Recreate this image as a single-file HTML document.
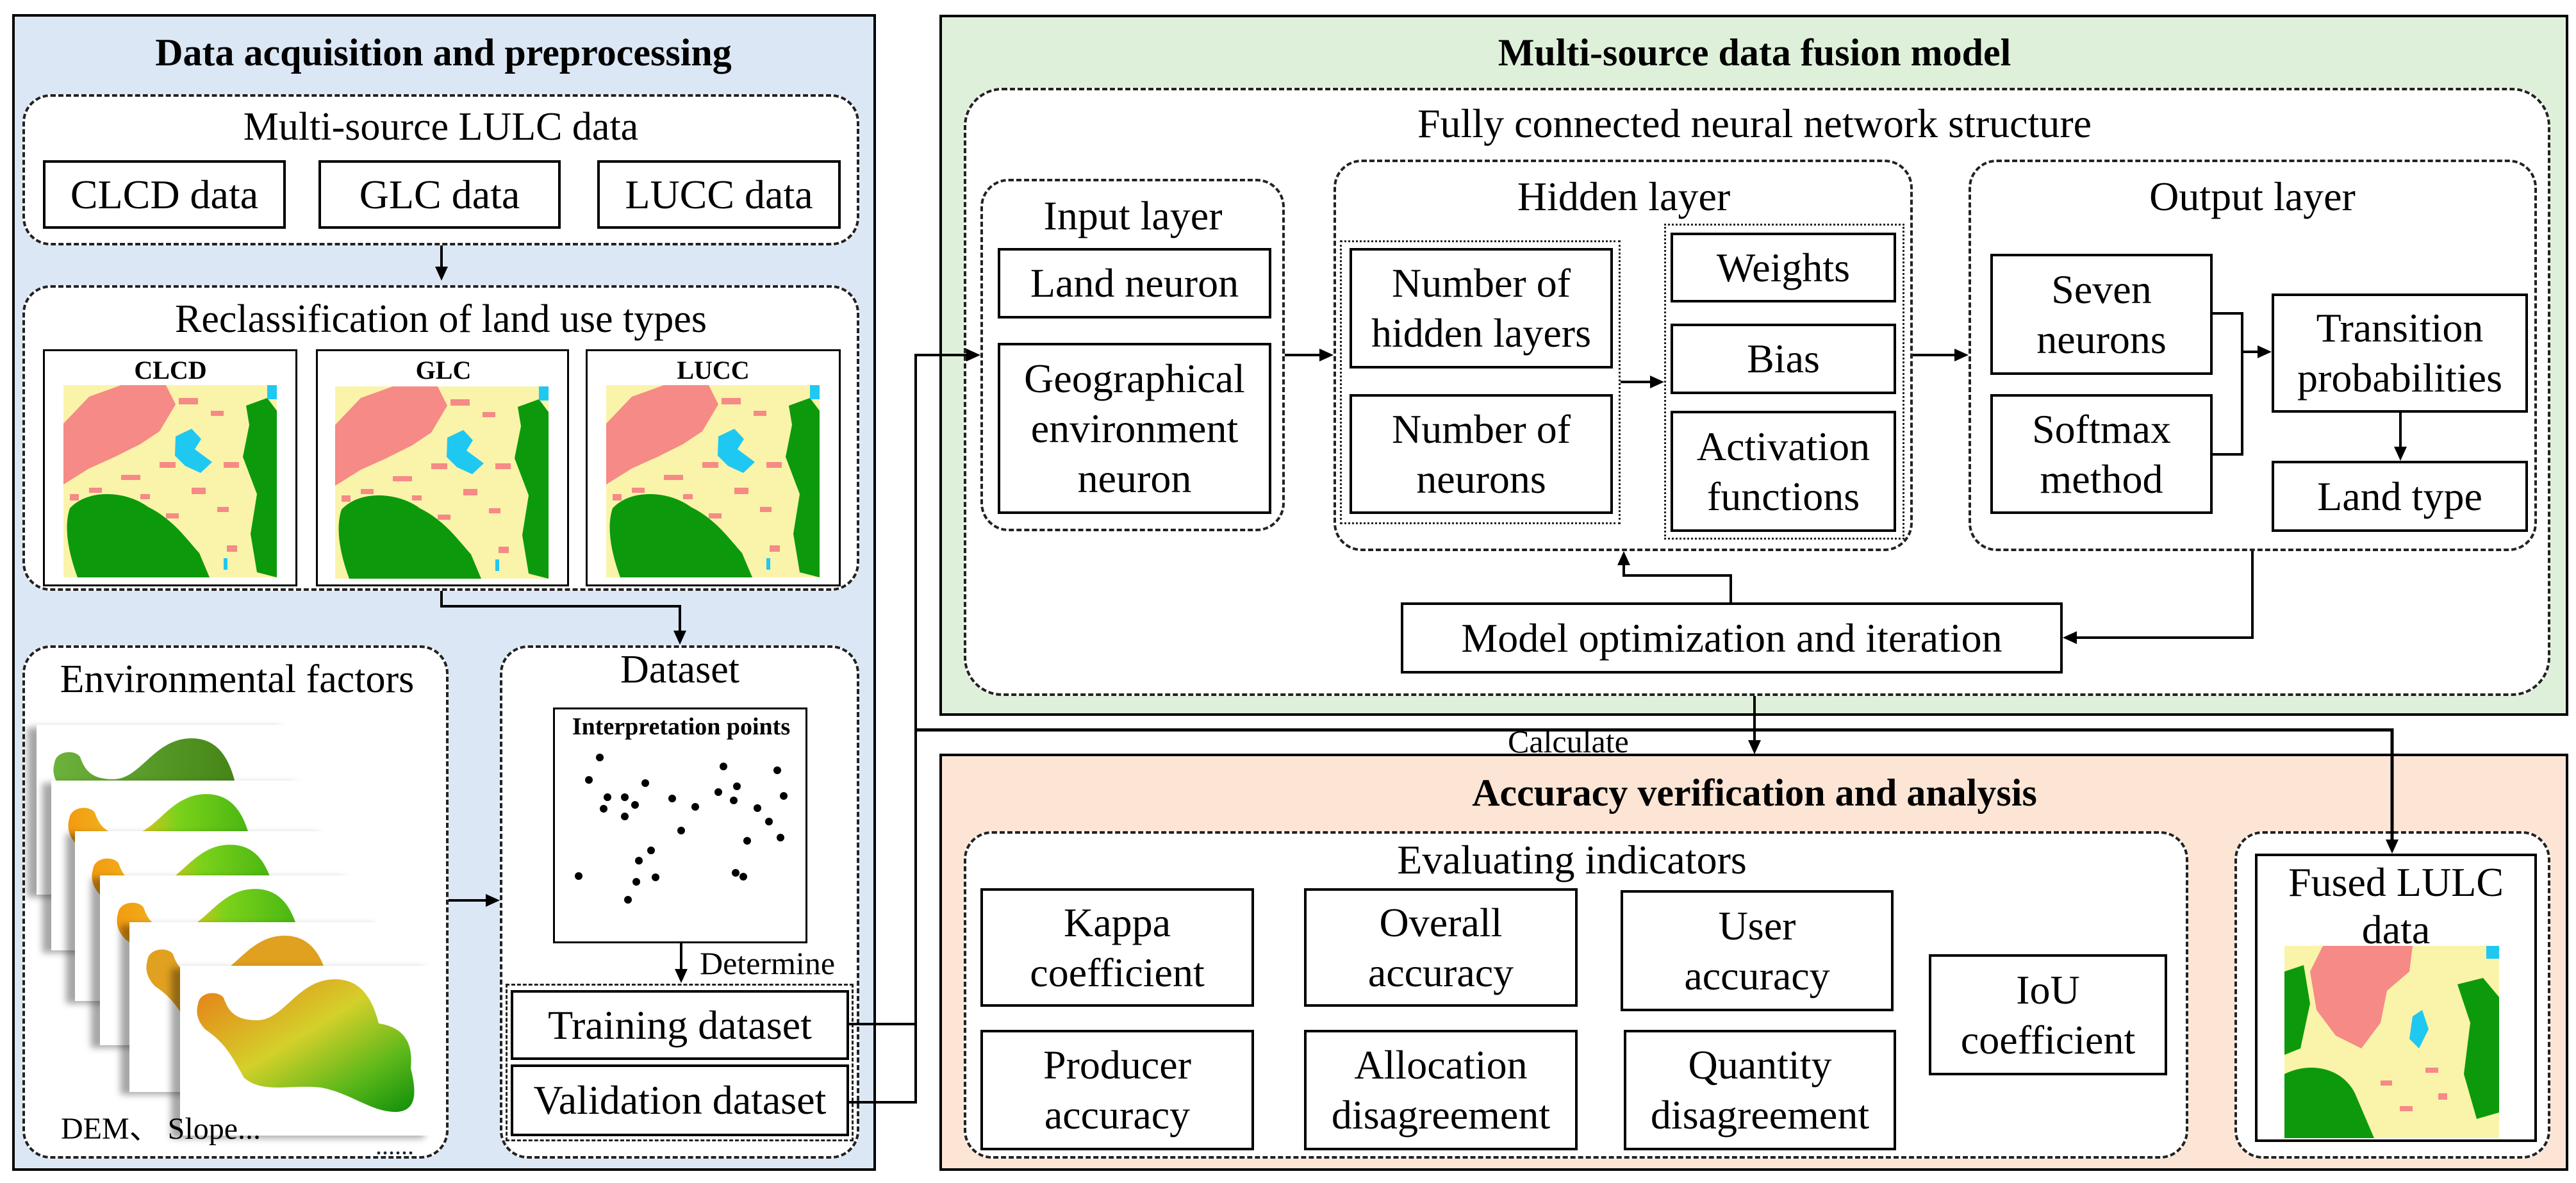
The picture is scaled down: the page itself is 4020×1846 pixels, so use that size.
<!DOCTYPE html>
<html><head><meta charset="utf-8">
<style>
html,body{margin:0;padding:0;background:#fff;}
#root{position:relative;width:4020px;height:1846px;overflow:hidden;background:#fff;font-family:"Liberation Serif",serif;color:#000;}
.a{position:absolute;box-sizing:border-box;}
.panel{border:4px solid #000;}
.d{border:4px dashed #222;border-radius:44px;}
.dt{border:3px dotted #222;}
.b{border:4px solid #000;background:#fff;display:flex;align-items:center;justify-content:center;text-align:center;font-size:64px;line-height:78px;font-family:"Liberation Serif",serif;}
.t{position:absolute;white-space:nowrap;transform:translate(-50%,-50%);font-size:62px;line-height:1;font-family:"Liberation Serif",serif;}
.h{font-weight:bold;font-size:60px;}
.card{position:absolute;background:#fff;width:395px;height:265px;box-shadow:-14px 4px 10px rgba(0,0,0,0.35);}
</style></head><body><div id="root">

<svg width="0" height="0" style="position:absolute">
<defs>
<symbol id="map" viewBox="0 0 333 300" preserveAspectRatio="none">
<rect width="333" height="300" fill="#faf3aa"/>
<path d="M0,60 L40,18 L90,0 L160,0 L175,30 L150,72 L120,92 L80,112 L40,130 L0,155 Z" fill="#f58a86"/>
<g fill="#f58a86">
<rect x="180" y="20" width="30" height="10"/><rect x="230" y="40" width="20" height="8"/><rect x="150" y="120" width="25" height="9"/><rect x="90" y="140" width="30" height="8"/><rect x="200" y="160" width="22" height="10"/><rect x="240" y="190" width="18" height="8"/><rect x="40" y="160" width="20" height="8"/><rect x="250" y="120" width="24" height="9"/><rect x="160" y="200" width="20" height="8"/><rect x="255" y="250" width="16" height="10"/><rect x="10" y="170" width="14" height="10"/><rect x="120" y="170" width="15" height="8"/>
</g>
<path d="M175,80 L200,68 L215,84 L205,100 L232,120 L214,137 L190,126 L174,110 Z" fill="#1fc8f0"/>
<path d="M10,192 C40,160 100,166 132,190 C172,210 192,240 212,262 L228,300 L22,300 C8,262 0,222 10,192 Z" fill="#0c9a0c"/>
<path d="M285,32 L318,20 L333,40 L333,300 L302,292 L292,232 L302,170 L280,112 L290,62 Z" fill="#0c9a0c"/>
<rect x="318" y="0" width="15" height="22" fill="#1fc8f0"/>
<rect x="250" y="270" width="6" height="18" fill="#1fc8f0"/>
</symbol>
<symbol id="fmap" viewBox="0 0 335 300" preserveAspectRatio="none">
<rect width="335" height="300" fill="#faf3aa"/>
<path d="M60,0 L200,0 L195,40 L160,70 L150,120 L120,160 L80,140 L50,100 L40,40 Z" fill="#f58a86"/>
<path d="M0,40 L30,30 L40,90 L25,160 L0,170 Z" fill="#0c9a0c"/>
<path d="M270,60 L310,50 L335,80 L335,260 L300,270 L280,200 L290,120 Z" fill="#0c9a0c"/>
<path d="M0,200 C40,180 90,190 110,230 L140,300 L0,300 Z" fill="#0c9a0c"/>
<path d="M200,110 L215,100 L225,130 L210,160 L195,145 Z" fill="#1fc8f0"/>
<rect x="315" y="0" width="20" height="20" fill="#1fc8f0"/>
<g fill="#f58a86"><rect x="220" y="190" width="20" height="8"/><rect x="150" y="210" width="18" height="8"/><rect x="240" y="230" width="14" height="10"/><rect x="180" y="250" width="20" height="8"/></g>
</symbol>
<path id="blob" d="M28,60 C30,40 60,38 68,50 C75,70 85,85 120,85 C160,85 180,30 230,22 C280,15 300,50 310,90 C340,95 365,110 360,160 C370,200 368,225 340,228 C300,230 270,200 220,190 C170,185 130,200 100,175 C80,140 70,120 40,100 C25,85 25,70 28,60 Z"/>
<linearGradient id="g1" x1="0" x2="1"><stop offset="0" stop-color="#6cb23c"/><stop offset="1" stop-color="#3e7d10"/></linearGradient>
<linearGradient id="g2" x1="0" x2="1"><stop offset="0" stop-color="#f29a12"/><stop offset="0.3" stop-color="#f0c020"/><stop offset="0.5" stop-color="#7cd21a"/><stop offset="1" stop-color="#2fa80e"/></linearGradient>
<linearGradient id="g3" x1="0" y1="0" x2="1" y2="1"><stop offset="0" stop-color="#e87a18"/><stop offset="0.45" stop-color="#d4d02a"/><stop offset="0.75" stop-color="#5cb81a"/><stop offset="1" stop-color="#0e8e0a"/></linearGradient>
</defs>
</svg>

<!-- Panels -->
<div class="a panel" style="left:19px;top:22px;width:1348px;height:1805px;background:#dce7f5"></div>
<div class="a panel" style="left:1466px;top:23px;width:2542px;height:1094px;background:#dff0da"></div>
<div class="a panel" style="left:1466px;top:1176px;width:2542px;height:651px;background:#fde5d5"></div>

<div class="t h" style="left:692px;top:82px">Data acquisition and preprocessing</div>
<div class="t h" style="left:2738px;top:82px">Multi-source data fusion model</div>
<div class="t h" style="left:2738px;top:1237px">Accuracy verification and analysis</div>

<div class="a d" style="left:35px;top:147px;width:1306px;height:236px;background:#fff"></div>
<div class="t" style="left:688px;top:198px">Multi-source LULC data</div>
<div class="a b" style="left:67px;top:250px;width:379px;height:107px">CLCD data</div>
<div class="a b" style="left:497px;top:250px;width:378px;height:107px">GLC data</div>
<div class="a b" style="left:932px;top:250px;width:380px;height:107px">LUCC data</div>

<div class="a d" style="left:35px;top:445px;width:1306px;height:477px;background:#fff"></div>
<div class="t" style="left:688px;top:498px">Reclassification of land use types</div>
<div class="a" style="left:67px;top:545px;width:397px;height:370px;border:3px solid #000;background:#fff"></div>
<div class="a" style="left:493px;top:545px;width:395px;height:370px;border:3px solid #000;background:#fff"></div>
<div class="a" style="left:914px;top:545px;width:398px;height:370px;border:3px solid #000;background:#fff"></div>
<div class="t" style="left:266px;top:578px;font-weight:bold;font-size:40px">CLCD</div>
<div class="t" style="left:692px;top:578px;font-weight:bold;font-size:40px">GLC</div>
<div class="t" style="left:1113px;top:578px;font-weight:bold;font-size:40px">LUCC</div>
<svg class="a" style="left:99px;top:601px" width="333" height="300"><use href="#map"/></svg>
<svg class="a" style="left:523px;top:603px" width="333" height="300"><use href="#map"/></svg>
<svg class="a" style="left:946px;top:601px" width="333" height="300"><use href="#map"/></svg>

<div class="a d" style="left:35px;top:1007px;width:665px;height:801px;background:#fff"></div>
<div class="t" style="left:370px;top:1060px">Environmental factors</div>
<div class="card" style="left:57px;top:1131px"><svg width="395" height="265"><use href="#blob" fill="url(#g1)"/></svg></div>
<div class="card" style="left:80px;top:1218px"><svg width="395" height="265"><use href="#blob" fill="url(#g2)"/></svg></div>
<div class="card" style="left:117px;top:1297px"><svg width="395" height="265"><use href="#blob" fill="url(#g2)"/></svg></div>
<div class="card" style="left:156px;top:1366px"><svg width="395" height="265"><use href="#blob" fill="url(#g2)"/></svg></div>
<div class="card" style="left:202px;top:1439px"><svg width="395" height="265"><use href="#blob" fill="#e0a020"/></svg></div>
<div class="card" style="left:281px;top:1507px"><svg width="395" height="265"><use href="#blob" fill="url(#g3)"/></svg></div>
<div class="a" style="left:95px;top:1738px;font-size:48px;line-height:1;white-space:nowrap">DEM、 Slope...</div>
<div class="a" style="left:586px;top:1768px;font-size:40px;line-height:1;color:#123">......</div>

<div class="a d" style="left:780px;top:1007px;width:561px;height:801px;background:#fff"></div>
<div class="t" style="left:1061px;top:1045px">Dataset</div>
<div class="a" style="left:863px;top:1104px;width:397px;height:368px;border:3px solid #000;background:#fff"></div>
<div class="t" style="left:1063px;top:1134px;font-weight:bold;font-size:38px">Interpretation points</div>
<svg class="a" style="left:863px;top:1104px" width="397" height="368">
<g fill="#000">
<circle cx="73" cy="78" r="6"/><circle cx="56" cy="113" r="6"/><circle cx="85" cy="140" r="6"/><circle cx="112" cy="140" r="6"/><circle cx="144" cy="118" r="6"/><circle cx="79" cy="158" r="6"/><circle cx="128" cy="152" r="6"/><circle cx="112" cy="170" r="6"/><circle cx="186" cy="142" r="6"/><circle cx="222" cy="155" r="6"/><circle cx="200" cy="192" r="6"/><circle cx="266" cy="92" r="6"/><circle cx="258" cy="132" r="6"/><circle cx="287" cy="123" r="6"/><circle cx="282" cy="145" r="6"/><circle cx="319" cy="157" r="6"/><circle cx="350" cy="98" r="6"/><circle cx="360" cy="138" r="6"/><circle cx="337" cy="178" r="6"/><circle cx="303" cy="208" r="6"/><circle cx="355" cy="203" r="6"/><circle cx="153" cy="223" r="6"/><circle cx="134" cy="239" r="6"/><circle cx="40" cy="263" r="6"/><circle cx="130" cy="272" r="6"/><circle cx="160" cy="265" r="6"/><circle cx="285" cy="258" r="6"/><circle cx="297" cy="264" r="6"/><circle cx="117" cy="300" r="6"/>
</g></svg>
<div class="a" style="left:1092px;top:1478px;font-size:50px;line-height:1">Determine</div>
<div class="a" style="left:789px;top:1535px;width:543px;height:246px;border:3px dashed #222"></div>
<div class="a b" style="left:797px;top:1545px;width:528px;height:109px">Training dataset</div>
<div class="a b" style="left:797px;top:1661px;width:528px;height:112px">Validation dataset</div>

<div class="a d" style="left:1504px;top:137px;width:2476px;height:949px;background:#fff;border-radius:60px"></div>
<div class="t" style="left:2738px;top:193px;font-size:64px">Fully connected neural network structure</div>

<div class="a d" style="left:1530px;top:279px;width:475px;height:550px"></div>
<div class="t" style="left:1768px;top:337px;font-size:64px">Input layer</div>
<div class="a b" style="left:1557px;top:387px;width:427px;height:110px">Land neuron</div>
<div class="a b" style="left:1557px;top:535px;width:427px;height:267px">Geographical<br>environment<br>neuron</div>

<div class="a d" style="left:2081px;top:249px;width:904px;height:611px"></div>
<div class="t" style="left:2534px;top:307px;font-size:64px">Hidden layer</div>
<div class="a dt" style="left:2091px;top:375px;width:438px;height:443px"></div>
<div class="a b" style="left:2106px;top:387px;width:411px;height:188px">Number of<br>hidden layers</div>
<div class="a b" style="left:2106px;top:615px;width:411px;height:187px">Number of<br>neurons</div>
<div class="a dt" style="left:2597px;top:349px;width:375px;height:493px"></div>
<div class="a b" style="left:2607px;top:363px;width:352px;height:109px">Weights</div>
<div class="a b" style="left:2607px;top:505px;width:352px;height:110px">Bias</div>
<div class="a b" style="left:2607px;top:641px;width:352px;height:189px">Activation<br>functions</div>

<div class="a d" style="left:3072px;top:249px;width:887px;height:611px"></div>
<div class="t" style="left:3515px;top:307px;font-size:64px">Output layer</div>
<div class="a b" style="left:3106px;top:396px;width:347px;height:189px">Seven<br>neurons</div>
<div class="a b" style="left:3106px;top:615px;width:347px;height:187px">Softmax<br>method</div>
<div class="a b" style="left:3545px;top:458px;width:400px;height:186px">Transition<br>probabilities</div>
<div class="a b" style="left:3545px;top:719px;width:400px;height:111px">Land type</div>

<div class="a b" style="left:2186px;top:940px;width:1033px;height:111px">Model optimization and iteration</div>

<div class="a d" style="left:1504px;top:1297px;width:1911px;height:511px;background:#fff"></div>
<div class="t" style="left:2453px;top:1342px;font-size:64px">Evaluating indicators</div>
<div class="a b" style="left:1530px;top:1386px;width:427px;height:185px">Kappa<br>coefficient</div>
<div class="a b" style="left:2035px;top:1386px;width:427px;height:185px">Overall<br>accuracy</div>
<div class="a b" style="left:2529px;top:1389px;width:426px;height:189px">User<br>accuracy</div>
<div class="a b" style="left:1530px;top:1607px;width:427px;height:188px">Producer<br>accuracy</div>
<div class="a b" style="left:2035px;top:1607px;width:427px;height:188px">Allocation<br>disagreement</div>
<div class="a b" style="left:2534px;top:1607px;width:425px;height:188px">Quantity<br>disagreement</div>
<div class="a b" style="left:3010px;top:1489px;width:372px;height:189px">IoU<br>coefficient</div>

<div class="a d" style="left:3487px;top:1297px;width:493px;height:511px;background:#fff"></div>
<div class="a" style="left:3519px;top:1332px;width:440px;height:450px;border:4px solid #000;background:#fff"></div>
<div class="t" style="left:3739px;top:1377px;font-size:64px">Fused LULC</div>
<div class="t" style="left:3739px;top:1451px;font-size:64px">data</div>
<svg class="a" style="left:3565px;top:1476px" width="335" height="300"><use href="#fmap"/></svg>

<div class="a" style="left:2353px;top:1132px;font-size:50px;line-height:1">Calculate</div>

<svg class="a" style="left:0;top:0" width="4020" height="1846">
<g stroke="#000" stroke-width="4" fill="none">
<path d="M689,383 V420"/>
<path d="M689,922 V946 H1061 V990"/>
<path d="M700,1405 H762"/>
<path d="M1063,1472 V1517"/>
<path d="M1325,1598 H1429"/>
<path d="M1325,1720 H1429 V554 H1512"/>
<path d="M1429,1139 H3733 V1314" stroke-width="5"/>
<path d="M2738,1086 V1159"/>
<path d="M2005,554 H2063"/>
<path d="M2529,596 H2579"/>
<path d="M2985,554 H3054"/>
<path d="M3453,489 H3499 V709 H3453"/>
<path d="M3499,549 H3527"/>
<path d="M3746,644 V701"/>
<path d="M3515,860 V995 H3237"/>
<path d="M2701,940 V898 H2534 V878"/>
</g>
<g fill="#000">
<path d="M689,438 l-10,-22 h20 Z"/>
<path d="M1061,1006 l-10,-22 h20 Z"/>
<path d="M780,1405 l-22,-10 v20 Z"/>
<path d="M1063,1534 l-10,-22 h20 Z"/>
<path d="M1530,554 l-22,-10 v20 Z"/>
<path d="M3733,1332 l-10,-22 h20 Z"/>
<path d="M2738,1177 l-10,-22 h20 Z"/>
<path d="M2081,554 l-22,-10 v20 Z"/>
<path d="M2597,596 l-22,-10 v20 Z"/>
<path d="M3072,554 l-22,-10 v20 Z"/>
<path d="M3545,549 l-22,-10 v20 Z"/>
<path d="M3746,719 l-10,-22 h20 Z"/>
<path d="M3219,995 l22,-10 v20 Z"/>
<path d="M2534,860 l-10,22 h20 Z"/>
</g>
</svg>

</div></body></html>
